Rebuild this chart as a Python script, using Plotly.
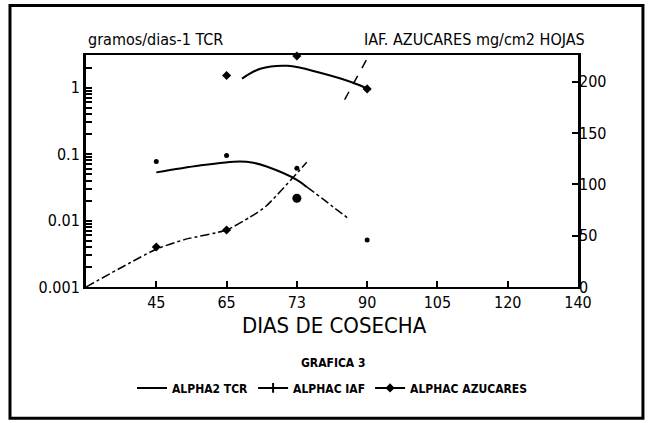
import plotly.graph_objects as go

# ---- categories (x positions index 0..7; 0 = origin, unlabeled)
x_labels = ["", "45", "65", "73", "90", "105", "120", "140"]
x_pos = [0, 1, 2, 3, 4, 5, 6, 7]

# ---- left axis (log): TCR
tcr_pts_x = [1, 2, 3, 4]
tcr_pts_y = [0.077, 0.095, 0.061, 0.0051]
tcr_big_x = [3]
tcr_big_y = [0.0216]
tcr_fit_x = [1.0, 1.62, 2.19, 2.38, 2.57, 3.0, 3.14]
tcr_fit_y = [0.053, 0.0675, 0.0774, 0.074, 0.065, 0.041, 0.032]
tcr_tail_x = [3.14, 3.36, 3.54, 3.74]
tcr_tail_y = [0.032, 0.0215, 0.0153, 0.0106]

# ---- left axis (log): rising IAF dash-dot
iaf_low_x = [0, 1, 1.41, 2, 2.33, 2.56, 3.14]
iaf_low_y = [0.001, 0.0037, 0.0052, 0.0072, 0.0112, 0.0164, 0.075]
iaf_low_pts_x = [1, 2]
iaf_low_pts_y = [0.004, 0.0072]

# ---- right axis: AZUCARES / IAF (upper)
azu_pts_x = [2, 3, 4]
azu_pts_y = [206, 225, 193]
azu_fit_x = [2.22, 2.48, 2.87, 3.33, 3.8, 4.01]
azu_fit_y = [203, 212.6, 215.5, 208.7, 199, 193]
iaf_up_x = [3.68, 4.02]
iaf_up_y = [182.5, 225]

left_major = [0.001, 0.01, 0.1, 1]
left_major_text = ["0.001", "0.01", "0.1", "1"]
right_ticks = [0, 50, 100, 150, 200]

FONT = "DejaVu Sans Condensed, Liberation Sans Narrow, DejaVu Sans, sans-serif"
BLK = "black"
LOG_RANGE = [-3, 0.49]

# log-axis ticks: every mantissa 1..9 per decade, labels only on powers of ten
left_tickvals, left_ticktext = [], []
for base, lab in zip(left_major, left_major_text):
    for m in range(1, 10):
        v = base * m
        if v <= 10 ** LOG_RANGE[1]:
            left_tickvals.append(v)
            left_ticktext.append(lab if m == 1 else "")

fig = go.Figure()

# TCR fitted curve (solid)
fig.add_trace(go.Scatter(x=tcr_fit_x, y=tcr_fit_y, mode="lines", line=dict(color=BLK, width=2, shape="spline"),
                         showlegend=False, yaxis="y"))
fig.add_trace(go.Scatter(x=tcr_tail_x, y=tcr_tail_y, mode="lines", line=dict(color=BLK, width=1.5, dash="dashdot", shape="spline"),
                         showlegend=False, yaxis="y"))
fig.add_trace(go.Scatter(x=tcr_pts_x, y=tcr_pts_y, mode="markers", marker=dict(color=BLK, size=5, symbol="circle"),
                         showlegend=False, yaxis="y"))
fig.add_trace(go.Scatter(x=tcr_big_x, y=tcr_big_y, mode="markers", marker=dict(color=BLK, size=9, symbol="circle"),
                         showlegend=False, yaxis="y"))
# IAF rising dash-dot (left)
fig.add_trace(go.Scatter(x=iaf_low_x, y=iaf_low_y, mode="lines",
                         line=dict(color=BLK, width=1.5, dash="dashdot", shape="spline", smoothing=0.6),
                         showlegend=False, yaxis="y"))
fig.add_trace(go.Scatter(x=iaf_low_pts_x, y=iaf_low_pts_y, mode="markers", marker=dict(color=BLK, size=7, symbol="diamond"),
                         showlegend=False, yaxis="y"))
# AZUCARES (right)
fig.add_trace(go.Scatter(x=azu_fit_x, y=azu_fit_y, mode="lines", line=dict(color=BLK, width=2, shape="spline"),
                         showlegend=False, yaxis="y2"))
fig.add_trace(go.Scatter(x=azu_pts_x, y=azu_pts_y, mode="markers", marker=dict(color=BLK, size=7, symbol="diamond"),
                         showlegend=False, yaxis="y2", cliponaxis=False))
fig.add_trace(go.Scatter(x=iaf_up_x, y=iaf_up_y, mode="lines", line=dict(color=BLK, width=1.5, dash="dash"),
                         showlegend=False, yaxis="y2", cliponaxis=False))

# legend entries
fig.add_trace(go.Scatter(x=[None], y=[None], mode="lines", name="<b>ALPHA2 TCR</b>",
                         line=dict(color=BLK, width=2)))
fig.add_trace(go.Scatter(x=[None], y=[None], mode="lines+markers", name="<b>ALPHAC IAF</b>",
                         line=dict(color=BLK, width=2), marker=dict(symbol="cross-thin", size=7, line=dict(color=BLK, width=2))))
fig.add_trace(go.Scatter(x=[None], y=[None], mode="lines+markers", name="<b>ALPHAC AZUCARES</b>",
                         line=dict(color=BLK, width=2), marker=dict(symbol="diamond", size=7, color=BLK)))

fig.update_layout(
    width=648, height=423,
    margin=dict(l=86, r=70, t=55, b=136),
    paper_bgcolor="white", plot_bgcolor="white",
    font=dict(family=FONT, color=BLK, size=15),
    xaxis=dict(range=[0, 7], tickvals=x_pos[1:], ticktext=x_labels[1:], ticks="inside", ticklen=6,
               tickwidth=2, tickcolor=BLK, showline=True, linewidth=2, linecolor=BLK, mirror=True,
               showgrid=False, zeroline=False, tickfont=dict(size=16, family=FONT)),
    yaxis=dict(type="log", range=LOG_RANGE, tickvals=left_tickvals, ticktext=left_ticktext,
               ticks="inside", ticklen=6, tickwidth=1.5, tickcolor=BLK, showline=True, linewidth=3,
               linecolor=BLK, mirror=True, showgrid=False, zeroline=False,
               tickfont=dict(size=16, family=FONT)),
    yaxis2=dict(overlaying="y", side="right", range=[0, 226], tickvals=right_ticks, ticks="inside",
                ticklen=6, tickwidth=2, tickcolor=BLK, showline=False, showgrid=False, zeroline=False,
                tickfont=dict(size=16, family=FONT)),
    legend=dict(orientation="h", x=0.5, xanchor="center", y=-0.435, yanchor="middle",
                font=dict(size=12, family=FONT), itemwidth=30, bgcolor="rgba(0,0,0,0)"),
    annotations=[
        dict(text="gramos/dias-1 TCR", xref="paper", yref="paper", x=0, y=1.065, xanchor="left",
             yanchor="middle", showarrow=False, font=dict(size=16, family=FONT)),
        dict(text="IAF. AZUCARES mg/cm2 HOJAS", xref="paper", yref="paper", x=1.018, y=1.065,
             xanchor="right", yanchor="middle", showarrow=False, font=dict(size=16, family=FONT)),
        dict(text="DIAS DE COSECHA", xref="paper", yref="paper", x=0.505, y=-0.164, xanchor="center",
             yanchor="middle", showarrow=False, font=dict(size=22, family=FONT)),
        dict(text="<b>GRAFICA 3</b>", xref="paper", yref="paper", x=0.502, y=-0.328, xanchor="center",
             yanchor="middle", showarrow=False, font=dict(size=12, family=FONT)),
    ],
    shapes=[
        dict(type="rect", xref="paper", yref="paper", x0=-0.1545, x1=1.132, y0=-0.566, y1=1.213,
             line=dict(color=BLK, width=3), fillcolor="rgba(0,0,0,0)"),
    ],
)

fig.write_html("out.html", config={"displayModeBar": False},
               post_script="document.body.style.margin='0';document.body.style.padding='0';")
